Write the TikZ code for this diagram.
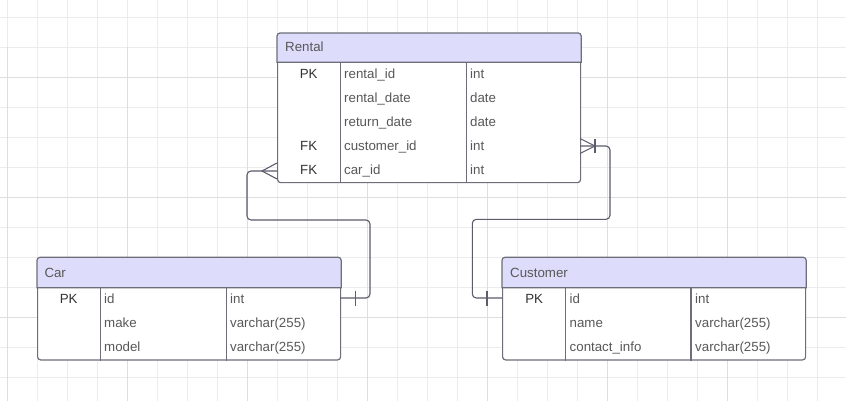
\documentclass[tikz,border=0pt]{standalone}
\usepackage{fontspec}
\setmainfont{Liberation Sans}
\usetikzlibrary{calc}

\definecolor{headfill}{RGB}{221,221,251}
\definecolor{boxline}{RGB}{110,110,122}
\definecolor{relline}{RGB}{92,92,108}
\definecolor{attrgray}{RGB}{88,88,88}
\definecolor{keygray}{RGB}{50,50,50}
\definecolor{gridminor}{RGB}{236,236,236}
\definecolor{gridmajor}{RGB}{222,222,222}

\begin{document}
\begin{tikzpicture}[x=1pt, y=-1pt, every node/.style={font=\fontsize{13.3}{16}\selectfont, inner sep=0pt},
	tablebox/.style={draw=boxline, line width=1.2pt, fill=white, rounded corners=3pt, anchor=north west, minimum width=303pt},
	headbox/.style={fill=headfill, draw=boxline, line width=1.2pt},
	colline/.style={draw=boxline, line width=1.1pt},
	headtext/.style={anchor=base west, text=attrgray},
	keytext/.style={anchor=base, text=keygray},
	attrtext/.style={anchor=base west, text=attrgray},
	relation/.style={draw=relline, line width=1.1pt}]
	
	% background and grid
	\fill[white] (0,0) rectangle (846,400);
	\useasboundingbox (0,0) rectangle (846,400);
	\draw[gridminor, line width=0.8pt, step=30pt, shift={(7.3pt,-17.3pt)}] (-30,430) grid (870,-30);
	\draw[gridmajor, line width=0.9pt, step=120pt, shift={(7.3pt,-77.3pt)}] (-30,430) grid (870,-30);
	
	% Rental table
	\node[tablebox, minimum height=149pt] (rental) at (277,33) {};
	\filldraw[headbox] ($(rental.north west)+(0,29.3)$) [rounded corners=3pt] -- (rental.north west) -- (rental.north east) [sharp corners] -- ($(rental.north east)+(0,29.3)$) -- cycle;
	\draw[colline] ($(rental.north west)+(63.3,29.3)$) -- ($(rental.south west)+(63.3,0)$);
	\draw[colline] ($(rental.north west)+(189.3,29.3)$) -- ($(rental.south west)+(189.3,0)$);
	\node[headtext] (rentalhead) at (285,51.7) {Rental};
	\node[keytext] (rentalpk) at (308.7,78.3) {PK};
	\node[keytext] (rentalfka) at (308.7,150.3) {FK};
	\node[keytext] (rentalfkb) at (308.7,174.3) {FK};
	\node[attrtext] (rentalid) at (344,78.3) {rental\_id};
	\node[attrtext] (rentaldate) at (344,102.3) {rental\_date};
	\node[attrtext] (returndate) at (344,126.3) {return\_date};
	\node[attrtext] (rentalcustomer) at (344,150.3) {customer\_id};
	\node[attrtext] (rentalcar) at (344,174.3) {car\_id};
	\node[attrtext] (rentalidtype) at (470,78.3) {int};
	\node[attrtext] (rentaldatetype) at (470,102.3) {date};
	\node[attrtext] (returndatetype) at (470,126.3) {date};
	\node[attrtext] (rentalcustomertype) at (470,150.3) {int};
	\node[attrtext] (rentalcartype) at (470,174.3) {int};
	
	% Car table
	\node[tablebox, minimum height=102pt] (car) at (37,257.3) {};
	\filldraw[headbox] ($(car.north west)+(0,30.4)$) [rounded corners=3pt] -- (car.north west) -- (car.north east) [sharp corners] -- ($(car.north east)+(0,30.4)$) -- cycle;
	\draw[colline] ($(car.north west)+(63.3,30.4)$) -- ($(car.south west)+(63.3,0)$);
	\draw[colline] ($(car.north west)+(189.3,30.4)$) -- ($(car.south west)+(189.3,0)$);
	\node[headtext] (carhead) at (44.3,277) {Car};
	\node[keytext] (carpk) at (68.7,303.4) {PK};
	\node[attrtext] (carid) at (104,303.4) {id};
	\node[attrtext] (carmake) at (104,327.4) {make};
	\node[attrtext] (carmodel) at (104,351.4) {model};
	\node[attrtext] (caridtype) at (230,303.4) {int};
	\node[attrtext] (carmaketype) at (230,327.4) {varchar(255)};
	\node[attrtext] (carmodeltype) at (230,351.4) {varchar(255)};
	
	% Customer table
	\node[tablebox, minimum height=102pt] (customer) at (502,257.3) {};
	\filldraw[headbox] ($(customer.north west)+(0,30.4)$) [rounded corners=3pt] -- (customer.north west) -- (customer.north east) [sharp corners] -- ($(customer.north east)+(0,30.4)$) -- cycle;
	\draw[colline] ($(customer.north west)+(63.7,30.4)$) -- ($(customer.south west)+(63.7,0)$);
	\draw[colline] ($(customer.north west)+(189,30.4)$) -- ($(customer.south west)+(189,0)$);
	\node[headtext] (customerhead) at (510,277) {Customer};
	\node[keytext] (customerpk) at (534.2,303.4) {PK};
	\node[attrtext] (customerid) at (569.5,303.4) {id};
	\node[attrtext] (customername) at (569.5,327.4) {name};
	\node[attrtext] (customercontact) at (569.5,351.4) {contact\_info};
	\node[attrtext] (customeridtype) at (695,303.4) {int};
	\node[attrtext] (customernametype) at (695,327.4) {varchar(255)};
	\node[attrtext] (customercontacttype) at (695,351.4) {varchar(255)};
	
	% relation ends
	\coordinate (carfk) at (277,171);
	\coordinate (carkey) at (340,298);
	\coordinate (customerfk) at (580,146);
	\coordinate (customerkey) at (502,298);
	
	% Rental -- Car (many to one)
	\draw[relation, rounded corners=4pt] (carfk) -| (247,220) -| (370,298) -- (carkey);
	\draw[relation] ($(carfk)+(0,-8)$) -- ($(carfk)+(-15,0)$) -- ($(carfk)+(0,8)$);
	\draw[relation] ($(carkey)+(15.5,-7.5)$) -- ($(carkey)+(15.5,7.5)$);
	
	% Rental -- Customer (one-or-many to one)
	\draw[relation, rounded corners=4pt] (customerfk) -| (610,219.3) -| (472.3,298) -- (customerkey);
	\draw[relation] ($(customerfk)+(0,-7.5)$) -- ($(customerfk)+(15,0)$) -- ($(customerfk)+(0,7.5)$);
	\draw[relation] ($(customerfk)+(15,-7)$) -- ($(customerfk)+(15,7)$);
	\draw[relation] ($(customerkey)+(-15,-7.5)$) -- ($(customerkey)+(-15,7.5)$);
\end{tikzpicture}
\end{document}
